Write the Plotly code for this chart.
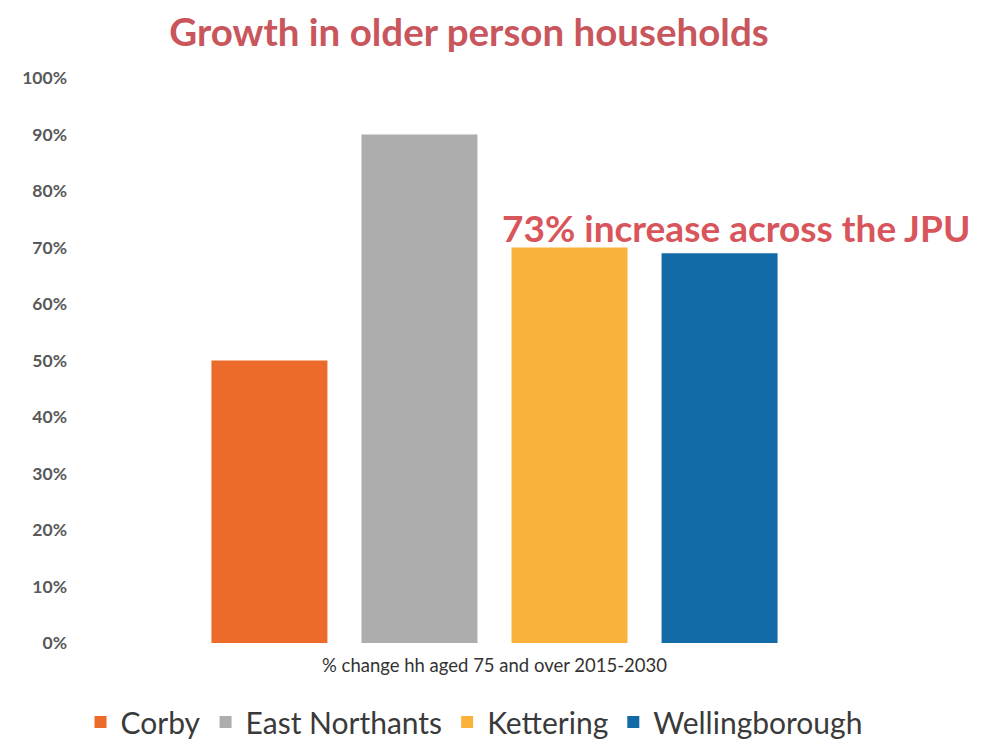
import plotly.graph_objects as go

category = ["% change hh aged 75 and over 2015-2030"]
series_names = ["Corby", "East Northants", "Kettering", "Wellingborough"]
series_values = [0.50, 0.90, 0.70, 0.69]
series_colors = ["#EC6A2A", "#ADADAD", "#FBB23A", "#126BA6"]
y_tickvals = [i / 10 for i in range(11)]
y_ticktext = [f"{i * 10}%" for i in range(11)]

fig = go.Figure()
for name, val, col in zip(series_names, series_values, series_colors):
    fig.add_trace(go.Bar(x=category, y=[val], name=name, marker_color=col,
                         marker_line_width=0))

fig.update_layout(
    width=992, height=742,
    paper_bgcolor="white", plot_bgcolor="white",
    margin=dict(l=80, r=83, t=78, b=99),
    barmode="group", bargap=0.276, bargroupgap=0.227,
    title=dict(text="<b>Growth in older person households</b>",
               font=dict(family="Lato", size=38.5, color="#C8565C"),
               x=469 / 992, xanchor="center", xref="container",
               y=1 - 33 / 742, yanchor="middle", yref="container"),
    legend=dict(orientation="h", xref="container", yref="container",
                x=474 / 992, xanchor="center", y=20 / 742, yanchor="middle",
                font=dict(family="Lato", size=30, color="#3A3A3A"),
                itemsizing="constant", traceorder="normal"),
    font=dict(family="Lato"),
)
fig.update_yaxes(range=[0, 1], tickvals=y_tickvals, ticktext=y_ticktext,
                 showgrid=False, zeroline=False, showline=False,
                 tickfont=dict(family="Lato", size=17.5, color="#595959", weight="bold"),
                 ticklabelstandoff=12)
fig.update_xaxes(range=[-0.5, 0.5], showgrid=False, showline=False,
                 tickfont=dict(family="Lato", size=18.5, color="#333333"),
                 ticklabelstandoff=9)
fig.add_annotation(text="<b>73% increase across the JPU</b>", xref="paper", yref="paper",
                   x=(736 - 80) / 829, y=(643 - 227) / 565, showarrow=False,
                   xanchor="center", yanchor="middle",
                   font=dict(family="Lato", size=37, color="#D8555B"))
fig.write_html("out.html")
